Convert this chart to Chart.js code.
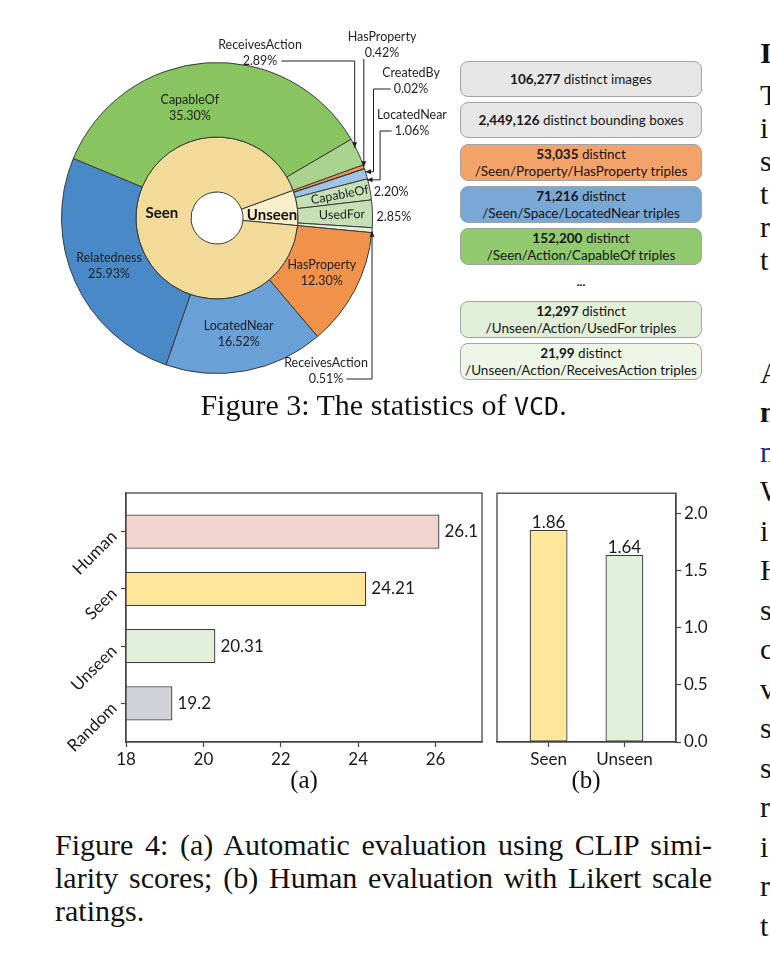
<!DOCTYPE html>
<html>
<head>
<meta charset="utf-8">
<script src="https://cdn.jsdelivr.net/npm/chart.js@4.4.0/dist/chart.umd.min.js"></script>
<style>
  body { margin: 0; width: 770px; height: 963px; position: relative; overflow: hidden; background: #fff; font-family: Lato, sans-serif; }
  canvas { position: absolute; }
  .box { position: absolute; left: 460px; width: 242px; box-sizing: border-box; border: 1px solid #a3a3a3; border-radius: 8px;
         display: flex; flex-direction: column; justify-content: center; align-items: center; font-size: 13.5px; line-height: 17px; color: #161616; white-space: nowrap; }
  .serif { position: absolute; font-family: "Liberation Serif", serif; color: #111; white-space: nowrap; }
  .cap4 { left: 55px; width: 657px; height: 33px; line-height: 33px; font-size: 30px; text-align: justify; text-align-last: justify; }
  .col2 { left: 760px; font-size: 30px; line-height: 33px; }
</style>
</head>
<body>

<canvas id="donut" width="420" height="370" style="left:40px; top:20px;"></canvas>
<div id="boxes"></div>
<div style="position:absolute; left:571px; top:274px; width:20px; text-align:center; font-size:12px; font-weight:bold;">...</div>

<div class="serif" style="left:55px; width:657px; top:388px; font-size:30px; line-height:33px; text-align:center;">Figure 3: The statistics of <span style="font-family:'DejaVu Sans Mono', monospace; font-size:25px;">VCD</span>.</div>

<canvas id="clip" width="450" height="300" style="left:40px; top:480px;"></canvas>
<canvas id="likert" width="240" height="300" style="left:490px; top:480px;"></canvas>
<div class="serif" style="left:274px; width:60px; top:766px; font-size:25px; text-align:center;">(a)</div>
<div class="serif" style="left:556px; width:60px; top:766px; font-size:25px; text-align:center;">(b)</div>

<div class="serif cap4" style="top:828px;">Figure 4: (a) Automatic evaluation using CLIP simi-</div>
<div class="serif cap4" style="top:861px;">larity scores; (b) Human evaluation with Likert scale</div>
<div class="serif" style="left:55px; top:894px; font-size:30px; line-height:33px;">ratings.</div>

<div id="col2"></div>

<script>
// Donut: outer ring = relation types, inner ring = Seen / Unseen
const outerNames = ['HasProperty', 'CreatedBy', 'LocatedNear', 'CapableOf', 'UsedFor', 'ReceivesAction',
                    'HasProperty', 'LocatedNear', 'Relatedness', 'CapableOf', 'ReceivesAction'];
const outerShares = [0.42, 0.02, 1.06, 2.20, 2.85, 0.51, 12.30, 16.52, 25.93, 35.30, 2.89];
const outerColors = ['#f0914c', '#f4b183', '#9dc3e6', '#c5e0b4', '#c5e0b4', '#e2f0d9',
                     '#f0924a', '#69a0d5', '#4a89c7', '#88c460', '#a9d38c'];
const groupNames = ['Unseen', 'Seen'];
const groupShares = [7.06, 92.94];
const groupColors = ['#fbeecb', '#f2db99'];

// Stat boxes on the right
const boxCounts = ['106,277', '2,449,126', '53,035', '71,216', '152,200', '12,297', '21,99'];
const boxLine1 = [' distinct images', ' distinct bounding boxes', ' distinct', ' distinct', ' distinct', ' distinct', ' distinct'];
const boxLine2 = ['', '', '/Seen/Property/HasProperty triples', '/Seen/Space/LocatedNear triples',
                  '/Seen/Action/CapableOf triples', '/Unseen/Action/UsedFor triples', '/Unseen/Action/ReceivesAction triples'];
const boxColors = ['#e6e6e6', '#e6e6e6', '#f3a36a', '#79a7d6', '#91c96f', '#e1efd8', '#eef6e8'];
const boxTops = [61, 102, 144, 186, 228, 301, 343];

// (a) CLIP similarity
const clipModels = ['Random', 'Unseen', 'Seen', 'Human'];
const clipScores = [19.2, 20.31, 24.21, 26.1];
const clipColors = ['#d0d2d6', '#e2efda', '#ffe699', '#f2d4cf'];
const clipTicks = [18, 20, 22, 24, 26];

// (b) Likert ratings
const likertGroups = ['Seen', 'Unseen'];
const likertScores = [1.86, 1.64];
const likertColors = ['#ffe699', '#e2efda'];
const likertTicks = [0, 0.5, 1.0, 1.5, 2.0];

// cut-off second column of the page
const col2Letters = ['I', 'T', 'i', 's', 't', 'r', 't', 'A', 'n', 'n', 'W', 'i', 'H', 's', 'c', 'v', 's', 's', 'r', 'i', 'r', 't'];
const col2Y = [52, 94, 127, 160, 193, 226, 259, 372, 411, 451, 490, 530, 569, 609, 648, 688, 727, 767, 806, 846, 885, 925];


// boxes
var boxHtml = '';
boxCounts.forEach(function (n, i) {
    var h = i < 2 ? 36 : 37;
    boxHtml += '<div class="box" style="top:' + boxTops[i] + 'px; height:' + h + 'px; background:' + boxColors[i] + ';">' +
        '<div><b>' + n + '</b>' + boxLine1[i] + '</div>' +
        (boxLine2[i] ? '<div>' + boxLine2[i] + '</div>' : '') + '</div>';
});
document.getElementById('boxes').innerHTML = boxHtml;

// second column letters
var colHtml = '';
col2Letters.forEach(function (c, i) {
    var style = 'top:' + (col2Y[i] - 16.5) + 'px;';
    if (i === 0 || i === 8) style += 'font-weight:bold;';
    if (i === 9) style += 'color:#1c2a8c;';
    colHtml += '<div class="serif col2" style="' + style + '">' + c + '</div>';
});
document.getElementById('col2').innerHTML = colHtml;


// ---- donut labels ----
var labelMode = ['call', 'call', 'call', 'side', 'side', 'call', 'in', 'in', 'in', 'in', 'call'];
var inShift = {9: [-19, 8]};
var innerShift = [[2, 4], [-2, -12]];
var callouts = {
    0: {tx: 165, ty: -181, path: 'down'},
    1: {tx: 194, ty: -145, path: 'elbow', ex: 9, ey: 3},
    2: {tx: 195, ty: -103, path: 'elbow', ex: 14, ey: 6},
    5: {tx: 109, ty: 145, path: 'up'},
    10: {tx: 43, ty: -173, path: 'over'}
};

function arrowHead(ctx, from, to) {
    var a = Math.atan2(to[1] - from[1], to[0] - from[0]);
    ctx.beginPath();
    ctx.moveTo(to[0], to[1]);
    ctx.lineTo(to[0] - 6 * Math.cos(a - 0.42), to[1] - 6 * Math.sin(a - 0.42));
    ctx.lineTo(to[0] - 6 * Math.cos(a + 0.42), to[1] - 6 * Math.sin(a + 0.42));
    ctx.closePath();
    ctx.fill();
}

function drawCallout(ctx, c, cx, cy, edge, name, pct) {
    var lx = cx + c.tx, ly = cy + c.ty, ly2 = ly + 16;
    ctx.fillText(name, lx, ly);
    ctx.fillText(pct, lx, ly2);
    var half = ctx.measureText(pct).width / 2;
    var pts;
    if (c.path === 'down') {
        pts = [[edge.x, ly2 + 6], [edge.x, edge.y]];
    } else if (c.path === 'over') {
        pts = [[lx + half + 4, ly2], [edge.x - 3, ly2], [edge.x - 3, edge.y - 4]];
    } else if (c.path === 'elbow') {
        pts = [[lx - half - 3, ly2], [edge.x + c.ex, ly2], [edge.x + c.ex, edge.y + c.ey], [edge.x + 1, edge.y + c.ey]];
    } else {
        pts = [[lx + half + 3, ly2], [edge.x, ly2], [edge.x, edge.y + 1]];
    }
    ctx.beginPath();
    ctx.moveTo(pts[0][0], pts[0][1]);
    for (var k = 1; k < pts.length; k++) ctx.lineTo(pts[k][0], pts[k][1]);
    ctx.stroke();
    arrowHead(ctx, pts[pts.length - 2], pts[pts.length - 1]);
}

var sliceLabels = {
    id: 'sliceLabels',
    afterDatasetsDraw: function (chart) {
        var ctx = chart.ctx;
        var outer = chart.getDatasetMeta(0).data;
        var inner = chart.getDatasetMeta(1).data;
        var cx = outer[0].x, cy = outer[0].y;
        ctx.save();
        ctx.fillStyle = '#1f1f1f';
        ctx.strokeStyle = '#1f1f1f';
        ctx.lineWidth = 1;
        ctx.textAlign = 'center';
        ctx.textBaseline = 'middle';
        ctx.font = '12.5px Lato';

        outer.forEach(function (arc, i) {
            var p = arc.getProps(['startAngle', 'endAngle', 'outerRadius'], true);
            var mid = (p.startAngle + p.endAngle) / 2;
            var edge = {x: cx + Math.cos(mid) * p.outerRadius, y: cy + Math.sin(mid) * p.outerRadius};
            var pct = outerShares[i].toFixed(2) + '%';
            if (labelMode[i] === 'in') {
                var c = arc.tooltipPosition(true);
                var s = inShift[i] || [0, 0];
                ctx.fillText(outerNames[i], c.x + s[0], c.y + s[1] - 8);
                ctx.fillText(pct, c.x + s[0], c.y + s[1] + 8);
            } else if (labelMode[i] === 'side') {
                ctx.save();
                ctx.translate(cx + Math.cos(mid) * 125, cy + Math.sin(mid) * 125);
                ctx.rotate(mid);
                ctx.fillText(outerNames[i], 0, 0);
                ctx.restore();
                ctx.textAlign = 'left';
                ctx.fillText(pct, edge.x + 4, edge.y + 3);
                ctx.textAlign = 'center';
            } else {
                drawCallout(ctx, callouts[i], cx, cy, edge, outerNames[i], pct);
            }
        });

        ctx.font = 'bold 15px Lato';
        ctx.fillStyle = '#111';
        inner.forEach(function (arc, i) {
            var c = arc.tooltipPosition(true);
            ctx.fillText(groupNames[i], c.x + innerShift[i][0], c.y + innerShift[i][1]);
        });
        ctx.restore();
    }
};

new Chart(document.getElementById('donut'), {
    type: 'doughnut',
    data: {
        labels: outerNames,
        datasets: [{
            data: outerShares,
            backgroundColor: outerColors,
            borderColor: '#3a3a3a',
            borderWidth: 1,
            hoverBorderWidth: 1,
            weight: 74.5
        }, {
            data: groupShares,
            backgroundColor: groupColors,
            borderColor: '#3a3a3a',
            borderWidth: 1,
            hoverBorderWidth: 1,
            weight: 55
        }]
    },
    options: {
        responsive: false,
        animation: false,
        rotation: 70,
        cutout: 26,
        layout: {padding: {left: 21, top: 42, right: 87, bottom: 16}},
        plugins: {legend: {display: false}, tooltip: {enabled: false}}
    },
    plugins: [sliceLabels]
});


// ---- bar charts ----
var frame = {
    id: 'frame',
    afterDraw: function (chart) {
        var a = chart.chartArea, ctx = chart.ctx;
        ctx.save();
        ctx.strokeStyle = '#444';
        ctx.lineWidth = 1.3;
        ctx.strokeRect(a.left, a.top, a.right - a.left, a.bottom - a.top);
        ctx.restore();
    }
};

var tickFont = {family: 'Lato', size: 17};
var axisGrid = {drawOnChartArea: false, offset: false, tickLength: 5, tickColor: '#444', tickWidth: 1.2};
var axisBorder = {color: '#444', width: 1.3};

// Chart (a)
var clipLabels = {
    id: 'clipLabels',
    afterDraw: function (chart) {
        var ctx = chart.ctx, a = chart.chartArea, ys = chart.scales.y;
        ctx.save();
        ctx.fillStyle = '#1a1a1a';
        ctx.font = '17px Lato';
        ctx.textBaseline = 'middle';
        ctx.textAlign = 'left';
        chart.getDatasetMeta(0).data.forEach(function (bar, i) {
            ctx.fillText(String(clipScores[i]), bar.x + 5, bar.y);
        });
        ctx.textAlign = 'right';
        clipModels.forEach(function (m, i) {
            ctx.save();
            ctx.translate(a.left - 12, ys.getPixelForValue(i) + 2);
            ctx.rotate(-Math.PI / 4);
            ctx.fillText(m, 0, 0);
            ctx.restore();
        });
        ctx.restore();
    }
};

new Chart(document.getElementById('clip'), {
    type: 'bar',
    data: {
        datasets: [{
            data: clipScores.map(function (v, i) { return {x: v, y: i}; }),
            backgroundColor: clipColors,
            borderColor: '#3f3f3f',
            borderWidth: 1.3,
            borderSkipped: false,
            barPercentage: 0.6,
            categoryPercentage: 1
        }]
    },
    options: {
        indexAxis: 'y',
        responsive: false,
        animation: false,
        layout: {padding: {top: 13, right: 8}},
        plugins: {legend: {display: false}, tooltip: {enabled: false}},
        scales: {
            x: {
                type: 'linear', min: 18, max: 27.2, offset: false,
                afterBuildTicks: function (s) { s.ticks = clipTicks.map(function (v) { return {value: v}; }); },
                afterFit: function (s) { s.height = 38; },
                grid: axisGrid, border: axisBorder,
                ticks: {font: tickFont, color: '#1a1a1a', padding: 2, maxRotation: 0}
            },
            y: {
                type: 'linear', min: -0.675, max: 3.675, offset: false,
                afterBuildTicks: function (s) { s.ticks = clipModels.map(function (m, i) { return {value: i}; }); },
                afterFit: function (s) { s.width = 86; },
                grid: axisGrid, border: axisBorder,
                ticks: {display: false}
            }
        }
    },
    plugins: [frame, clipLabels]
});

// Chart (b)
var likertLabels = {
    id: 'likertLabels',
    afterDraw: function (chart) {
        var ctx = chart.ctx;
        ctx.save();
        ctx.fillStyle = '#1a1a1a';
        ctx.font = '17px Lato';
        ctx.textAlign = 'center';
        ctx.textBaseline = 'alphabetic';
        chart.getDatasetMeta(0).data.forEach(function (bar, i) {
            ctx.fillText(String(likertScores[i]), bar.x, bar.y - 2);
        });
        ctx.restore();
    }
};

new Chart(document.getElementById('likert'), {
    type: 'bar',
    data: {
        datasets: [{
            data: likertScores.map(function (v, i) { return {x: i, y: v}; }),
            backgroundColor: likertColors,
            borderColor: '#3f3f3f',
            borderWidth: 1.3,
            borderSkipped: false,
            barPercentage: 0.5,
            categoryPercentage: 1
        }]
    },
    options: {
        responsive: false,
        animation: false,
        layout: {padding: {left: 7, top: 13}},
        plugins: {legend: {display: false}, tooltip: {enabled: false}},
        scales: {
            x: {
                type: 'linear', min: -0.68, max: 1.68, offset: false,
                afterBuildTicks: function (s) { s.ticks = likertGroups.map(function (g, i) { return {value: i}; }); },
                afterFit: function (s) { s.height = 38; },
                grid: axisGrid, border: axisBorder,
                ticks: {font: tickFont, color: '#1a1a1a', padding: 2, maxRotation: 0,
                        callback: function (v) { return likertGroups[v]; }}
            },
            y: {
                type: 'linear', position: 'right', min: 0, max: 2.18, offset: false,
                afterBuildTicks: function (s) { s.ticks = likertTicks.map(function (v) { return {value: v}; }); },
                afterFit: function (s) { s.width = 54; },
                grid: axisGrid, border: axisBorder,
                ticks: {font: tickFont, color: '#1a1a1a', padding: 3,
                        callback: function (v) { return v.toFixed(1); }}
            }
        }
    },
    plugins: [frame, likertLabels]
});
</script>
</body>
</html>
